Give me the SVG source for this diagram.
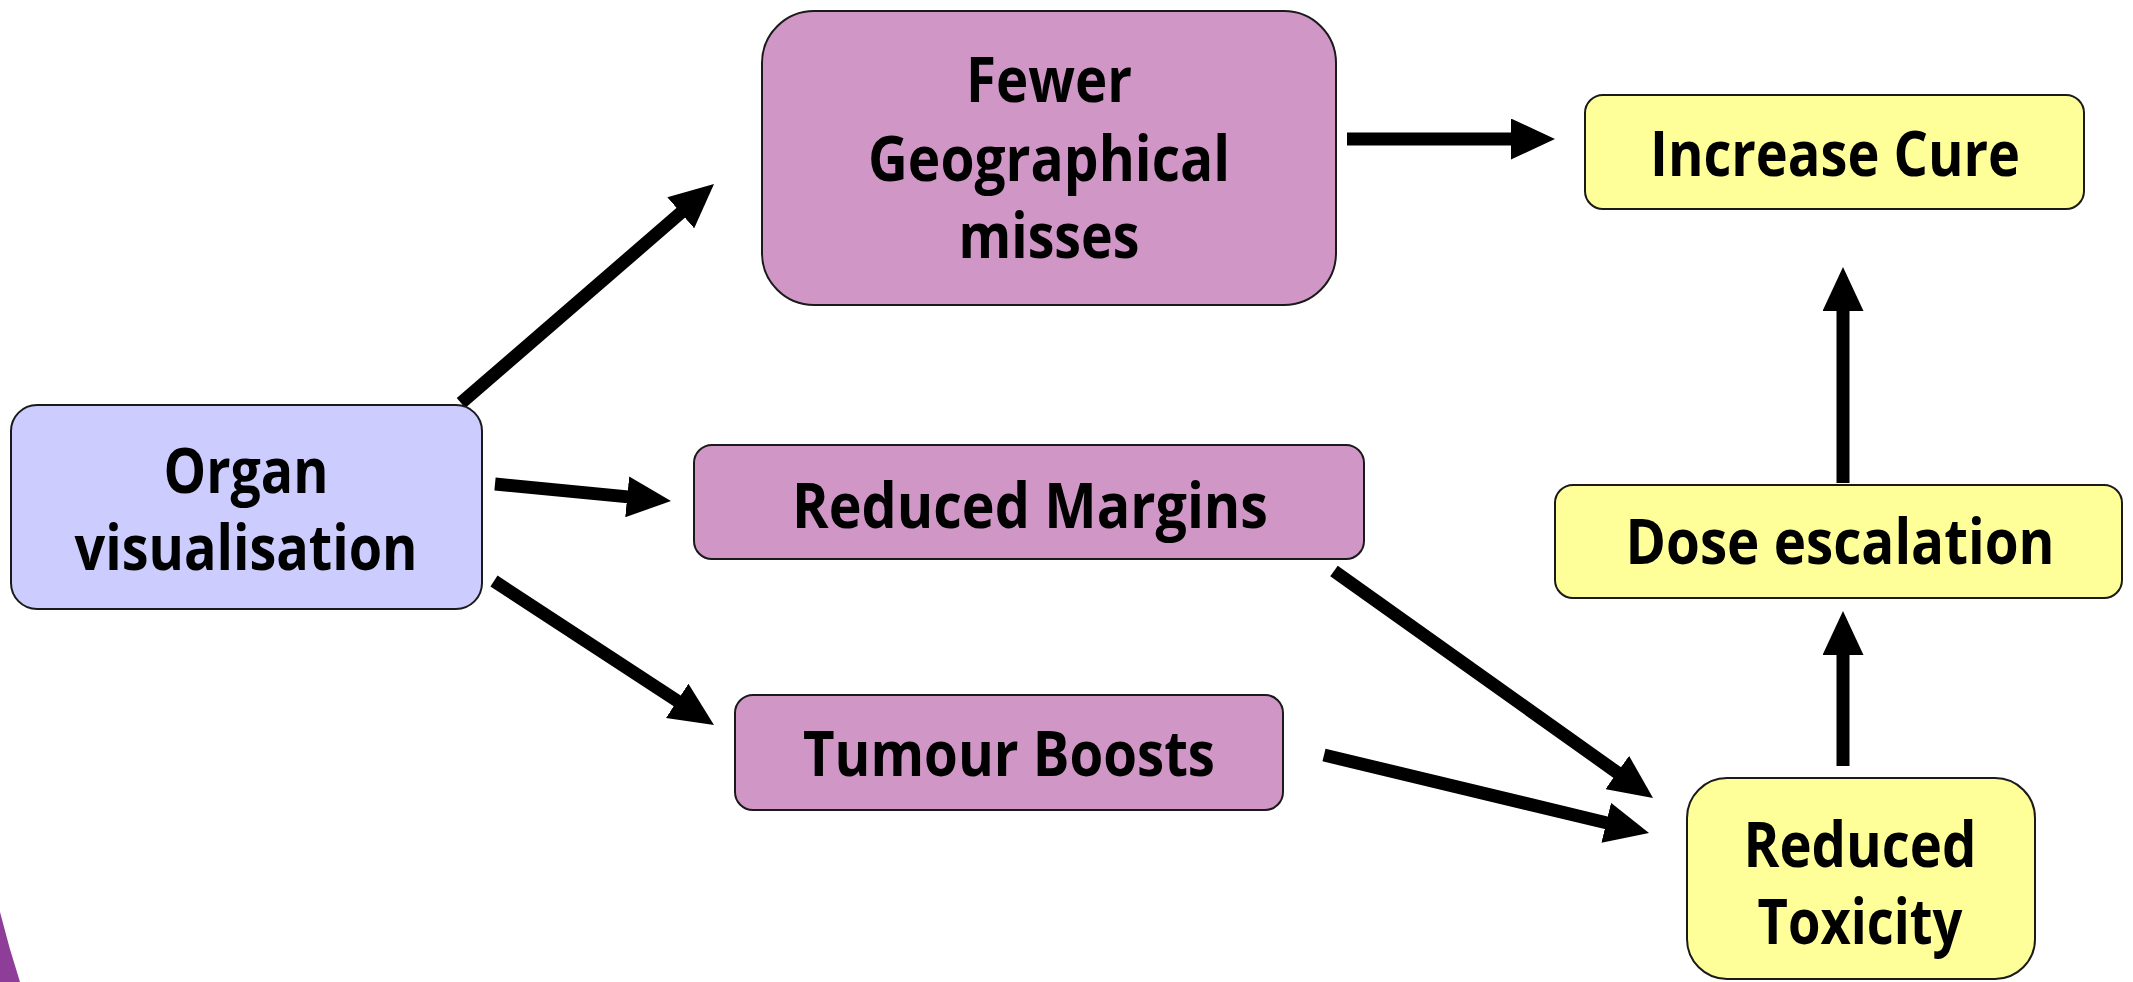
<svg xmlns="http://www.w3.org/2000/svg" width="2133" height="982" viewBox="0 0 2133 982">
  <style>
    .box { stroke: #1a1a1a; stroke-width: 2; }
    .lav { fill: #CCCCFF; }
    .mauve { fill: #D096C6; }
    .yel { fill: #FFFF99; }
    .lbl { font-family: "Open Sans", "Liberation Sans", sans-serif; font-weight: 700; font-size: 62px; fill: #000; text-anchor: middle; }
    .arrow { stroke: #000; stroke-width: 13; fill: none; marker-end: url(#head); }
  </style>
  <defs>
    <marker id="head" markerUnits="userSpaceOnUse" markerWidth="44" markerHeight="41" viewBox="0 0 44 41" refX="1" refY="20.5" orient="auto">
      <path d="M0,0 L44,20.5 L0,41 Z" fill="#000"/>
    </marker>
  </defs>

  <rect width="2133" height="982" fill="#FFFFFF"/>
  <!-- purple swoosh at the lower-left corner -->
  <path d="M0,912 Q9,948 20,982 L0,982 Z" fill="#8E3E99"/>

  <g id="connectors">
    <line class="arrow" x1="461" y1="403" x2="681.5" y2="212.2"/>
    <line class="arrow" x1="495" y1="484" x2="628.2" y2="496.9"/>
    <line class="arrow" x1="494" y1="581" x2="678" y2="701.4"/>
    <line class="arrow" x1="1347" y1="139" x2="1512" y2="139"/>
    <line class="arrow" x1="1334" y1="571" x2="1618" y2="773.1"/>
    <line class="arrow" x1="1324" y1="755" x2="1607.2" y2="823"/>
    <line class="arrow" x1="1843" y1="766" x2="1843" y2="654"/>
    <line class="arrow" x1="1843" y1="483" x2="1843" y2="310"/>
  </g>

  <g id="organ-visualisation">
    <rect class="box lav" x="11" y="405" width="471" height="204" rx="26"/>
    <text class="lbl" x="246" y="493" textLength="165" lengthAdjust="spacingAndGlyphs">Organ</text>
    <text class="lbl" x="246" y="570" textLength="343" lengthAdjust="spacingAndGlyphs">visualisation</text>
  </g>

  <g id="fewer-geographical-misses">
    <rect class="box mauve" x="762" y="11" width="574" height="294" rx="52"/>
    <text class="lbl" x="1049" y="102" textLength="166" lengthAdjust="spacingAndGlyphs">Fewer</text>
    <text class="lbl" x="1049" y="181" textLength="362" lengthAdjust="spacingAndGlyphs">Geographical</text>
    <text class="lbl" x="1049" y="258" textLength="181" lengthAdjust="spacingAndGlyphs">misses</text>
  </g>

  <g id="reduced-margins">
    <rect class="box mauve" x="694" y="445" width="670" height="114" rx="18"/>
    <text class="lbl" x="1030" y="528" textLength="476" lengthAdjust="spacingAndGlyphs">Reduced Margins</text>
  </g>

  <g id="tumour-boosts">
    <rect class="box mauve" x="735" y="695" width="548" height="115" rx="18"/>
    <text class="lbl" x="1009" y="776" textLength="412" lengthAdjust="spacingAndGlyphs">Tumour Boosts</text>
  </g>

  <g id="increase-cure">
    <rect class="box yel" x="1585" y="95" width="499" height="114" rx="18"/>
    <text class="lbl" x="1835" y="176" textLength="370" lengthAdjust="spacingAndGlyphs">Increase Cure</text>
  </g>

  <g id="dose-escalation">
    <rect class="box yel" x="1555" y="485" width="567" height="113" rx="18"/>
    <text class="lbl" x="1840" y="564" textLength="429" lengthAdjust="spacingAndGlyphs">Dose escalation</text>
  </g>

  <g id="reduced-toxicity">
    <rect class="box yel" x="1687" y="778" width="348" height="201" rx="40"/>
    <text class="lbl" x="1860" y="867" textLength="233" lengthAdjust="spacingAndGlyphs">Reduced</text>
    <text class="lbl" x="1860" y="944" textLength="205" lengthAdjust="spacingAndGlyphs">Toxicity</text>
  </g>
</svg>
